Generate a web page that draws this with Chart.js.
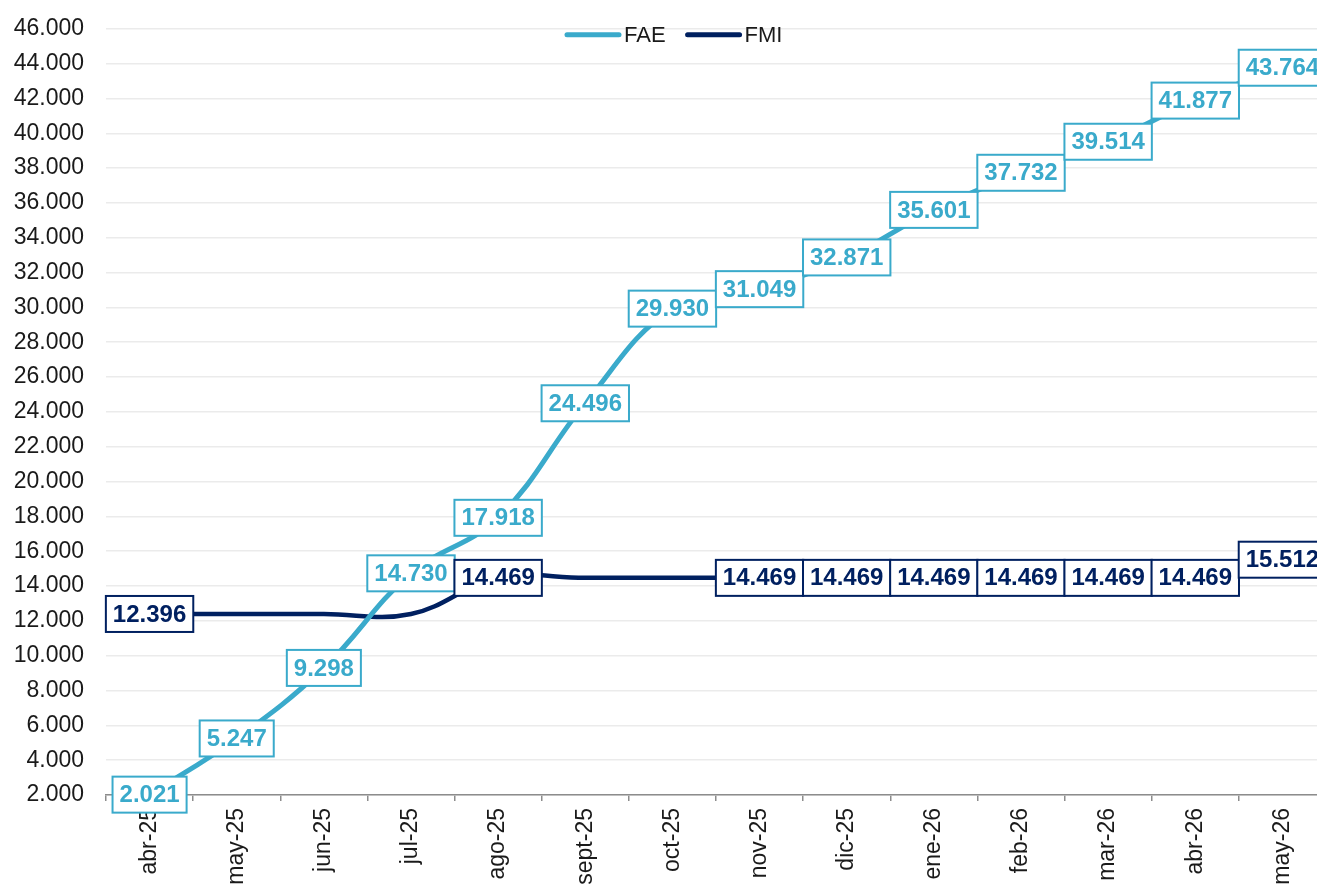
<!DOCTYPE html>
<html>
<head>
<meta charset="utf-8">
<script src="https://cdn.jsdelivr.net/npm/chart.js@4.4.1/dist/chart.umd.min.js"></script>
<style>
  html, body { margin: 0; padding: 0; background: #fff; overflow: hidden; }
  #wrap { width: 1326px; height: 893px; margin-top: -7px; }
</style>
</head>
<body>
<div id="wrap"><canvas id="lineChart" width="1326" height="893"></canvas></div>
<script>
// months on the x axis
const months = [
  'abr-25', 'may-25', 'jun-25', 'jul-25', 'ago-25', 'sept-25', 'oct-25',
  'nov-25', 'dic-25', 'ene-26', 'feb-26', 'mar-26', 'abr-26', 'may-26'
];
// series values
const fae = [2021, 5247, 9298, 14730, 17918, 24496, 29930, 31049, 32871, 35601, 37732, 39514, 41877, 43764];
const fmi = [12396, 12396, 12396, 12396, 14469, 14469, 14469, 14469, 14469, 14469, 14469, 14469, 14469, 15512];
// which points carry a value box
const faeLabelIdx = [0, 1, 2, 3, 4, 5, 6, 7, 8, 9, 10, 11, 12, 13];
const fmiLabelIdx = [0, 4, 7, 8, 9, 10, 11, 12, 13];
// y axis range
const yMin = 2000;
const yMax = 46000;
const yStep = 2000;

const FAE_COLOR = '#3aaacb';
const FMI_COLOR = '#002060';
const FONT = '"Liberation Sans", Arial, sans-serif';

// 12396 -> "12.396"
function fmtNum(v) {
  return String(Math.round(v)).replace(/\B(?=(\d{3})+(?!\d))/g, '.');
}

// white boxes with coloured border and bold value
const boxLabels = {
  id: 'boxLabels',
  afterDatasetsDraw(chart) {
    const ctx = chart.ctx;
    ctx.save();
    ctx.font = 'bold 24px ' + FONT;
    ctx.textAlign = 'center';
    ctx.textBaseline = 'middle';
    chart.data.datasets.forEach((ds, di) => {
      const meta = chart.getDatasetMeta(di);
      ds.labelIdx.forEach(i => {
        const pt = meta.data[i];
        const txt = fmtNum(ds.data[i]);
        const w = ctx.measureText(txt).width + 14;
        const h = 36;
        ctx.fillStyle = '#fff';
        ctx.fillRect(pt.x - w / 2, pt.y - h / 2, w, h);
        ctx.lineWidth = 2;
        ctx.strokeStyle = ds.borderColor;
        ctx.strokeRect(pt.x - w / 2, pt.y - h / 2, w, h);
        ctx.fillStyle = ds.borderColor;
        ctx.fillText(txt, pt.x, pt.y + 1);
      });
    });
    ctx.restore();
  }
};

// legend sits inside the plot, top centre
const topLegend = {
  id: 'topLegend',
  afterDraw(chart) {
    const ctx = chart.ctx;
    ctx.save();
    ctx.font = '22px ' + FONT;
    ctx.textBaseline = 'middle';
    ctx.lineCap = 'round';
    let x = 567;
    const y = chart.chartArea.top + 6;
    chart.data.datasets.forEach(ds => {
      ctx.strokeStyle = ds.borderColor;
      ctx.lineWidth = 5;
      ctx.beginPath();
      ctx.moveTo(x, y);
      ctx.lineTo(x + 52, y);
      ctx.stroke();
      ctx.fillStyle = '#1a1a1a';
      ctx.fillText(ds.label, x + 57, y + 1);
      x += 57 + ctx.measureText(ds.label).width + 22;
    });
    ctx.restore();
  }
};

const ctx = document.getElementById('lineChart').getContext('2d');
new Chart(ctx, {
  type: 'line',
  data: {
    labels: months,
    datasets: [
      {
        label: 'FAE',
        data: fae,
        labelIdx: faeLabelIdx,
        borderColor: FAE_COLOR,
        borderWidth: 5,
        pointRadius: 0,
        tension: 0.4
      },
      {
        label: 'FMI',
        data: fmi,
        labelIdx: fmiLabelIdx,
        borderColor: FMI_COLOR,
        borderWidth: 4.5,
        pointRadius: 0,
        tension: 0.4
      }
    ]
  },
  options: {
    responsive: false,
    animation: false,
    layout: { padding: { top: 13, right: 0, left: 0, bottom: 0 } },
    plugins: {
      legend: { display: false },
      tooltip: { enabled: false }
    },
    scales: {
      x: {
        offset: true,
        grid: {
          offset: true,
          drawOnChartArea: false,
          color: '#8c8c8c',
          lineWidth: 1.5,
          tickLength: 6
        },
        border: { display: true, color: '#8c8c8c', width: 1.5 },
        ticks: {
          minRotation: 90,
          maxRotation: 90,
          autoSkip: false,
          padding: 7,
          color: '#1a1a1a',
          font: { family: FONT, size: 23 }
        },
        afterFit(scale) { scale.height = 91; }
      },
      y: {
        min: yMin,
        max: yMax,
        grid: { color: '#ebebeb', lineWidth: 1.5, drawTicks: false },
        border: { display: false },
        ticks: {
          stepSize: yStep,
          padding: 22,
          color: '#1a1a1a',
          font: { family: FONT, size: 23 },
          callback: v => fmtNum(v)
        },
        afterFit(scale) { scale.width = 106; }
      }
    }
  },
  plugins: [boxLabels, topLegend]
});
</script>
</body>
</html>
